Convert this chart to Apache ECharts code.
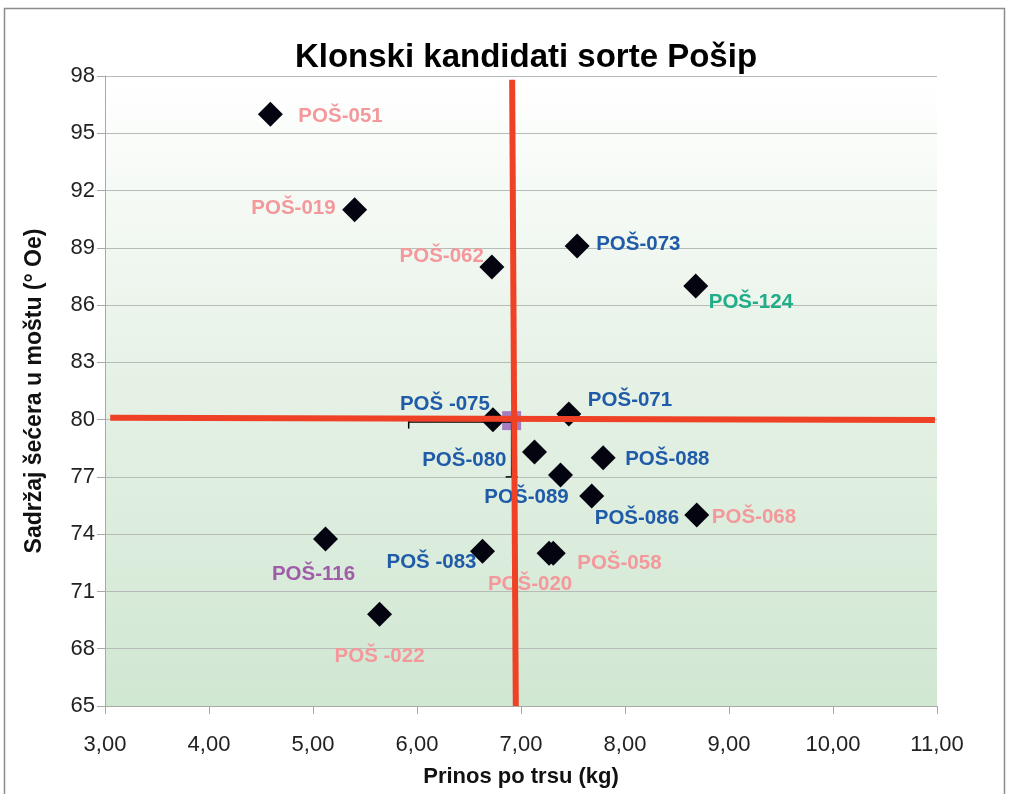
<!DOCTYPE html>
<html>
<head>
<meta charset="utf-8">
<script src="https://cdn.jsdelivr.net/npm/echarts@6/dist/echarts.min.js"></script>
<style>
html,body{margin:0;padding:0;background:#fff;}
#chart{width:1011px;height:794px;}
</style>
</head>
<body>
<div id="chart"></div>
<script>
// ---- data ----
var clones = ['POŠ-051','POŠ-019','POŠ-062','POŠ-073','POŠ-124','POŠ -075','POŠ-071','POŠ-080','POŠ-088','POŠ-089','POŠ-086','POŠ-068','POŠ-116','POŠ -083','POŠ-020','POŠ-058','POŠ -022'];
var yieldKg = [4.59, 5.40, 6.72, 7.54, 8.68, 6.73, 7.46, 7.13, 7.79, 7.38, 7.68, 8.69, 5.12, 6.63, 7.27, 7.31, 5.64];
var sugarOe = [96.0, 91.0, 88.0, 89.1, 87.0, 80.0, 80.3, 78.3, 78.0, 77.1, 76.0, 75.0, 73.75, 73.1, 73.0, 73.0, 69.8];
var cloneGroup = ['pink','pink','pink','blue','green','blue','blue','blue','blue','blue','blue','pink','purple','blue','pink','pink','pink'];
var meanPoint = [6.91, 79.95];
var errXLow = 5.92;   // horizontal error bar end
var errYLow = 77.0;   // vertical error bar end
var vRefLine = [[6.915, 97.8], [6.95, 65]];
var hRefLine = [[3.05, 80.1], [10.98, 79.98]];
var xTicks = {min: 3, max: 11, step: 1};
var yTicks = {min: 65, max: 98, step: 3};

// ---- styles / layout ----
var groupColors = {pink: '#f4999b', blue: '#1f5ba8', green: '#1fae88', purple: '#a05ca8'};
var labelLayout = {
  'POŠ-051': [28, 2, 'left'],
  'POŠ-019': [-19, -1, 'right'],
  'POŠ-062': [-8, -11, 'right'],
  'POŠ-073': [19, -2, 'left'],
  'POŠ-124': [13, 16, 'left'],
  'POŠ -075': [-3, -15, 'right'],
  'POŠ-071': [19, -14, 'left'],
  'POŠ-080': [-28, 8, 'right'],
  'POŠ-088': [22, 2, 'left'],
  'POŠ-089': [-34, 22, 'center'],
  'POŠ-086': [3, 22, 'left'],
  'POŠ-068': [15, 2, 'left'],
  'POŠ-116': [-12, 35, 'center'],
  'POŠ -083': [-6, 11, 'right'],
  'POŠ-020': [-19, 31, 'center'],
  'POŠ-058': [24, 10, 'left'],
  'POŠ -022': [0, 42, 'center']
};
var FONT = "'Liberation Sans', Arial, sans-serif";

var scatterData = clones.map(function (n, i) {
  var l = labelLayout[n];
  return {
    name: n,
    value: [yieldKg[i], sugarOe[i]],
    label: {
      show: true, formatter: n, position: 'inside',
      offset: [l[0], l[1]], align: l[2], verticalAlign: 'middle',
      color: groupColors[cloneGroup[i]]
    }
  };
});

var chart = echarts.init(document.getElementById('chart'), null, {renderer: 'canvas'});
var option = {
  animation: false,
  backgroundColor: '#ffffff',
  textStyle: {fontFamily: FONT},
  title: {
    text: 'Klonski kandidati sorte Pošip',
    left: 521, top: 36, textAlign: 'center',
    textStyle: {fontFamily: FONT, fontSize: 33, fontWeight: 'bold', color: '#000'}
  },
  graphic: [{
    type: 'rect', silent: true, z: -10,
    shape: {x: 4.5, y: 8.5, width: 1000, height: 800},
    style: {fill: 'none', stroke: '#8c8c8c', lineWidth: 1.5}
  }],
  grid: {
    left: 105, right: 74, top: 76, bottom: 88, show: true, borderWidth: 0,
    backgroundColor: new echarts.graphic.LinearGradient(0, 0, 0, 1, [
      {offset: 0, color: '#ffffff'},
      {offset: 0.5, color: '#e5f1e5'},
      {offset: 1, color: '#d0e7d2'}
    ])
  },
  xAxis: {
    type: 'value', min: xTicks.min, max: xTicks.max, interval: xTicks.step,
    name: 'Prinos po trsu (kg)', nameLocation: 'middle', nameGap: 60,
    nameTextStyle: {fontFamily: FONT, fontSize: 22, fontWeight: 'bold', color: '#111'},
    axisLine: {show: true, lineStyle: {color: '#a8a8a8', width: 1}},
    axisTick: {show: true, length: 8, lineStyle: {color: '#a8a8a8'}},
    axisLabel: {fontFamily: FONT, fontSize: 22, color: '#222', margin: 28,
      formatter: function (v) { return v.toFixed(2).replace('.', ','); }},
    splitLine: {show: false}
  },
  yAxis: {
    type: 'value', min: yTicks.min, max: yTicks.max, interval: yTicks.step,
    name: 'Sadržaj šećera u moštu (° Oe)', nameLocation: 'middle', nameGap: 59,
    nameTextStyle: {fontFamily: FONT, fontSize: 23, fontWeight: 'bold', color: '#111'},
    axisLine: {show: true, lineStyle: {color: '#a8a8a8', width: 1}},
    axisTick: {show: true, length: 8, lineStyle: {color: '#a8a8a8'}},
    axisLabel: {fontFamily: FONT, fontSize: 22, color: '#222', margin: 10},
    splitLine: {show: true, lineStyle: {color: '#b8bcb8', width: 1}}
  },
  series: [
    {
      type: 'scatter', name: 'Klonovi', z: 3,
      symbol: 'diamond', symbolSize: 25,
      itemStyle: {color: '#03040f', opacity: 1},
      label: {fontFamily: FONT, fontSize: 20.5, fontWeight: 'bold'},
      data: scatterData
    },
    {
      type: 'scatter', name: 'Prosjek', z: 4,
      symbol: 'rect', symbolSize: 19,
      itemStyle: {color: '#a77fc0', opacity: 1},
      data: [meanPoint]
    },
    {
      type: 'custom', name: 'Greška', z: 5,
      renderItem: function (params, api) {
        var m = api.coord(meanPoint);
        var xl = api.coord([errXLow, meanPoint[1]]);
        var yl = api.coord([meanPoint[0], errYLow]);
        var st = {stroke: '#000', lineWidth: 1.5};
        return {type: 'group', children: [
          {type: 'line', shape: {x1: xl[0], y1: m[1] + 1.5, x2: m[0], y2: m[1] + 1.5}, style: st},
          {type: 'line', shape: {x1: xl[0], y1: m[1] - 4, x2: xl[0], y2: m[1] + 8}, style: st},
          {type: 'line', shape: {x1: m[0], y1: m[1], x2: yl[0], y2: yl[1]}, style: st},
          {type: 'line', shape: {x1: yl[0] - 6, y1: yl[1], x2: yl[0] + 6, y2: yl[1]}, style: st}
        ]};
      },
      data: [[meanPoint[0], meanPoint[1]]]
    },
    {
      type: 'line', name: 'vref', z: 10, symbol: 'none', silent: true,
      lineStyle: {color: '#ee4125', width: 6}, data: vRefLine
    },
    {
      type: 'line', name: 'href', z: 10, symbol: 'none', silent: true,
      lineStyle: {color: '#ee4125', width: 6}, data: hRefLine
    }
  ]
};
chart.setOption(option);
</script>
</body>
</html>
